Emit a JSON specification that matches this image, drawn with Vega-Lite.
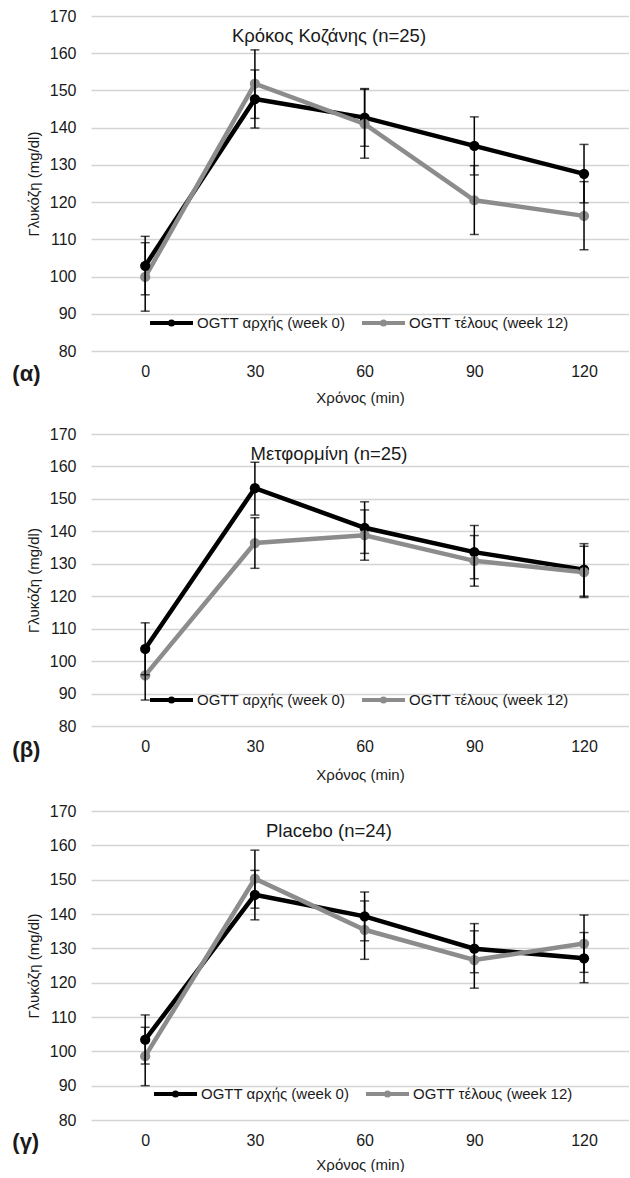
{
  "$schema": "https://vega.github.io/schema/vega-lite/v6.json",
  "padding": {"left": 12, "top": 8, "right": 0, "bottom": 0},
  "background": "white",
  "config": {
    "font": "Liberation Sans",
    "view": {"stroke": null},
    "axis": {"labelFont": "Liberation Sans", "titleFont": "Liberation Sans", "labelColor": "#1a1a1a", "titleColor": "#1a1a1a", "titleFontWeight": "normal", "ticks": false, "domain": false},
    "axisY": {"labelFontSize": 16, "labelPadding": 15, "titleFontSize": 15, "titlePadding": 8, "grid": true, "gridColor": "#d4d4d4", "gridWidth": 1.5, "labelOverlap": false},
    "axisX": {"labelFontSize": 16, "labelPadding": 12, "titleFontSize": 15, "titlePadding": 11, "grid": false, "labelAngle": 0},
    "legend": {"orient": "none", "direction": "horizontal", "symbolType": "M-1,0L1,0M0.07,0A0.07,0.07,0,1,1,-0.07,0A0.07,0.07,0,1,1,0.07,0", "symbolSize": 1849, "symbolStrokeWidth": 4, "labelFontSize": 15, "labelFont": "Liberation Sans", "labelColor": "#1a1a1a", "labelOffset": 2, "columnPadding": 8, "labelLimit": 300},
    "title": {"font": "Liberation Sans", "fontWeight": "normal", "color": "#1a1a1a"}
  },
  "datasets": {
    "d": [
      {"p": "a", "t": 0, "s": "OGTT αρχής (week 0)", "m": 102.9, "lo": 95.1, "hi": 110.8},
      {"p": "a", "t": 30, "s": "OGTT αρχής (week 0)", "m": 147.7, "lo": 139.9, "hi": 155.5},
      {"p": "a", "t": 60, "s": "OGTT αρχής (week 0)", "m": 142.7, "lo": 135.0, "hi": 150.5},
      {"p": "a", "t": 90, "s": "OGTT αρχής (week 0)", "m": 135.1, "lo": 127.3, "hi": 142.9},
      {"p": "a", "t": 120, "s": "OGTT αρχής (week 0)", "m": 127.6, "lo": 119.8, "hi": 135.5},
      {"p": "a", "t": 0, "s": "OGTT τέλους (week 12)", "m": 99.9, "lo": 90.7, "hi": 109.1},
      {"p": "a", "t": 30, "s": "OGTT τέλους (week 12)", "m": 151.8, "lo": 142.5, "hi": 160.9},
      {"p": "a", "t": 60, "s": "OGTT τέλους (week 12)", "m": 141.0, "lo": 131.8, "hi": 150.3},
      {"p": "a", "t": 90, "s": "OGTT τέλους (week 12)", "m": 120.5, "lo": 111.3, "hi": 129.8},
      {"p": "a", "t": 120, "s": "OGTT τέλους (week 12)", "m": 116.3, "lo": 107.2, "hi": 125.5},
      {"p": "b", "t": 0, "s": "OGTT αρχής (week 0)", "m": 103.8, "lo": 95.8, "hi": 111.8},
      {"p": "b", "t": 30, "s": "OGTT αρχής (week 0)", "m": 153.3, "lo": 145.0, "hi": 161.3},
      {"p": "b", "t": 60, "s": "OGTT αρχής (week 0)", "m": 141.1, "lo": 133.2, "hi": 149.1},
      {"p": "b", "t": 90, "s": "OGTT αρχής (week 0)", "m": 133.6, "lo": 125.4, "hi": 141.8},
      {"p": "b", "t": 120, "s": "OGTT αρχής (week 0)", "m": 128.2, "lo": 120.0, "hi": 136.2},
      {"p": "b", "t": 0, "s": "OGTT τέλους (week 12)", "m": 95.6, "lo": 88.0, "hi": 103.2},
      {"p": "b", "t": 30, "s": "OGTT τέλους (week 12)", "m": 136.4, "lo": 128.6, "hi": 144.2},
      {"p": "b", "t": 60, "s": "OGTT τέλους (week 12)", "m": 138.8, "lo": 131.1, "hi": 146.6},
      {"p": "b", "t": 90, "s": "OGTT τέλους (week 12)", "m": 130.9, "lo": 123.1, "hi": 138.7},
      {"p": "b", "t": 120, "s": "OGTT τέλους (week 12)", "m": 127.4, "lo": 119.6, "hi": 135.4},
      {"p": "g", "t": 0, "s": "OGTT αρχής (week 0)", "m": 103.4, "lo": 96.3, "hi": 110.6},
      {"p": "g", "t": 30, "s": "OGTT αρχής (week 0)", "m": 145.6, "lo": 138.3, "hi": 152.7},
      {"p": "g", "t": 60, "s": "OGTT αρχής (week 0)", "m": 139.3, "lo": 132.2, "hi": 146.4},
      {"p": "g", "t": 90, "s": "OGTT αρχής (week 0)", "m": 129.9, "lo": 122.9, "hi": 137.2},
      {"p": "g", "t": 120, "s": "OGTT αρχής (week 0)", "m": 127.1, "lo": 120.0, "hi": 134.6},
      {"p": "g", "t": 0, "s": "OGTT τέλους (week 12)", "m": 98.6, "lo": 90.0, "hi": 107.0},
      {"p": "g", "t": 30, "s": "OGTT τέλους (week 12)", "m": 150.3, "lo": 141.7, "hi": 158.6},
      {"p": "g", "t": 60, "s": "OGTT τέλους (week 12)", "m": 135.4, "lo": 126.8, "hi": 143.8},
      {"p": "g", "t": 90, "s": "OGTT τέλους (week 12)", "m": 126.6, "lo": 118.4, "hi": 135.1},
      {"p": "g", "t": 120, "s": "OGTT τέλους (week 12)", "m": 131.4, "lo": 123.0, "hi": 139.7}
    ]
  },
  "spacing": 21,
  "resolve": {"legend": {"color": "independent"}},
  "vconcat": [
    {
      "title": {"text": "(α)", "orient": "bottom", "anchor": "start", "frame": "bounds", "offset": -41, "dx": -14, "fontSize": 22, "fontWeight": "bold"},
      "resolve": {"legend": {"color": "independent"}},
      "vconcat": [
        {
          "width": 538, "height": 335,
          "title": {"text": "Κρόκος Κοζάνης (n=25)", "offset": -37, "dx": -31, "fontSize": 18.5},
          "data": {"name": "d"},
          "transform": [{"filter": "datum.p === 'a'"}],
          "encoding": {
            "x": {"field": "t", "type": "quantitative", "scale": {"domain": [-14.82, 132.3], "nice": false, "zero": false}, "title": "Χρόνος (min)", "axis": {"values": [0, 30, 60, 90, 120]}}
          },
          "layer": [
            {"mark": {"type": "line", "strokeWidth": 4.5}, "encoding": {"y": {"field": "m", "type": "quantitative", "scale": {"domain": [80, 170]}, "title": "Γλυκόζη (mg/dl)", "axis": {"values": [80, 90, 100, 110, 120, 130, 140, 150, 160, 170]}}, "color": {"field": "s", "type": "nominal", "scale": {"domain": ["OGTT αρχής (week 0)", "OGTT τέλους (week 12)"], "range": ["#000000", "#8c8c8c"]}, "legend": {"legendX": 57, "legendY": 283, "title": null}}}},
            {"mark": {"type": "point", "filled": true, "size": 105, "opacity": 1}, "encoding": {"y": {"field": "m", "type": "quantitative", "title": "Γλυκόζη (mg/dl)", "axis": {"values": [80, 90, 100, 110, 120, 130, 140, 150, 160, 170]}}, "color": {"field": "s", "type": "nominal", "legend": null}}},
            {"mark": {"type": "errorbar", "color": "black", "thickness": 1.5, "ticks": {"size": 9, "thickness": 1.5, "color": "black"}}, "encoding": {"y": {"field": "lo", "type": "quantitative", "title": "Γλυκόζη (mg/dl)", "axis": {"values": [80, 90, 100, 110, 120, 130, 140, 150, 160, 170]}}, "y2": {"field": "hi"}, "detail": {"field": "s"}}}
          ]
        }
      ]
    },
    {
      "title": {"text": "(β)", "orient": "bottom", "anchor": "start", "frame": "bounds", "offset": -42, "dx": -14, "fontSize": 22, "fontWeight": "bold"},
      "resolve": {"legend": {"color": "independent"}},
      "vconcat": [
        {
          "width": 538, "height": 292,
          "title": {"text": "Μετφορμίνη (n=25)", "offset": -37, "dx": -31, "fontSize": 18.5},
          "data": {"name": "d"},
          "transform": [{"filter": "datum.p === 'b'"}],
          "encoding": {
            "x": {"field": "t", "type": "quantitative", "scale": {"domain": [-14.82, 132.3], "nice": false, "zero": false}, "title": "Χρόνος (min)", "axis": {"titlePadding": 13, "values": [0, 30, 60, 90, 120]}}
          },
          "layer": [
            {"mark": {"type": "line", "strokeWidth": 4.5}, "encoding": {"y": {"field": "m", "type": "quantitative", "scale": {"domain": [80, 170]}, "title": "Γλυκόζη (mg/dl)", "axis": {"values": [80, 90, 100, 110, 120, 130, 140, 150, 160, 170]}}, "color": {"field": "s", "type": "nominal", "legend": {"legendX": 57, "legendY": 242, "title": null}}}},
            {"mark": {"type": "point", "filled": true, "size": 105, "opacity": 1}, "encoding": {"y": {"field": "m", "type": "quantitative", "title": "Γλυκόζη (mg/dl)", "axis": {"values": [80, 90, 100, 110, 120, 130, 140, 150, 160, 170]}}, "color": {"field": "s", "type": "nominal", "legend": null}}},
            {"mark": {"type": "errorbar", "color": "black", "thickness": 1.5, "ticks": {"size": 9, "thickness": 1.5, "color": "black"}}, "encoding": {"y": {"field": "lo", "type": "quantitative", "title": "Γλυκόζη (mg/dl)", "axis": {"values": [80, 90, 100, 110, 120, 130, 140, 150, 160, 170]}}, "y2": {"field": "hi"}, "detail": {"field": "s"}}}
          ]
        }
      ]
    },
    {
      "title": {"text": "(γ)", "orient": "bottom", "anchor": "start", "frame": "bounds", "offset": -40, "dx": -14, "fontSize": 22, "fontWeight": "bold"},
      "resolve": {"legend": {"color": "independent"}},
      "vconcat": [
        {
          "width": 538, "height": 309,
          "title": {"text": "Placebo (n=24)", "offset": -37, "dx": -31, "fontSize": 18.5},
          "data": {"name": "d"},
          "transform": [{"filter": "datum.p === 'g'"}],
          "encoding": {
            "x": {"field": "t", "type": "quantitative", "scale": {"domain": [-14.82, 132.3], "nice": false, "zero": false}, "title": "Χρόνος (min)", "axis": {"titlePadding": 9, "values": [0, 30, 60, 90, 120]}}
          },
          "layer": [
            {"mark": {"type": "line", "strokeWidth": 4.5}, "encoding": {"y": {"field": "m", "type": "quantitative", "scale": {"domain": [80, 170]}, "title": "Γλυκόζη (mg/dl)", "axis": {"values": [80, 90, 100, 110, 120, 130, 140, 150, 160, 170]}}, "color": {"field": "s", "type": "nominal", "legend": {"legendX": 61, "legendY": 259, "title": null}}}},
            {"mark": {"type": "point", "filled": true, "size": 105, "opacity": 1}, "encoding": {"y": {"field": "m", "type": "quantitative", "title": "Γλυκόζη (mg/dl)", "axis": {"values": [80, 90, 100, 110, 120, 130, 140, 150, 160, 170]}}, "color": {"field": "s", "type": "nominal", "legend": null}}},
            {"mark": {"type": "errorbar", "color": "black", "thickness": 1.5, "ticks": {"size": 9, "thickness": 1.5, "color": "black"}}, "encoding": {"y": {"field": "lo", "type": "quantitative", "title": "Γλυκόζη (mg/dl)", "axis": {"values": [80, 90, 100, 110, 120, 130, 140, 150, 160, 170]}}, "y2": {"field": "hi"}, "detail": {"field": "s"}}}
          ]
        }
      ]
    }
  ]
}
